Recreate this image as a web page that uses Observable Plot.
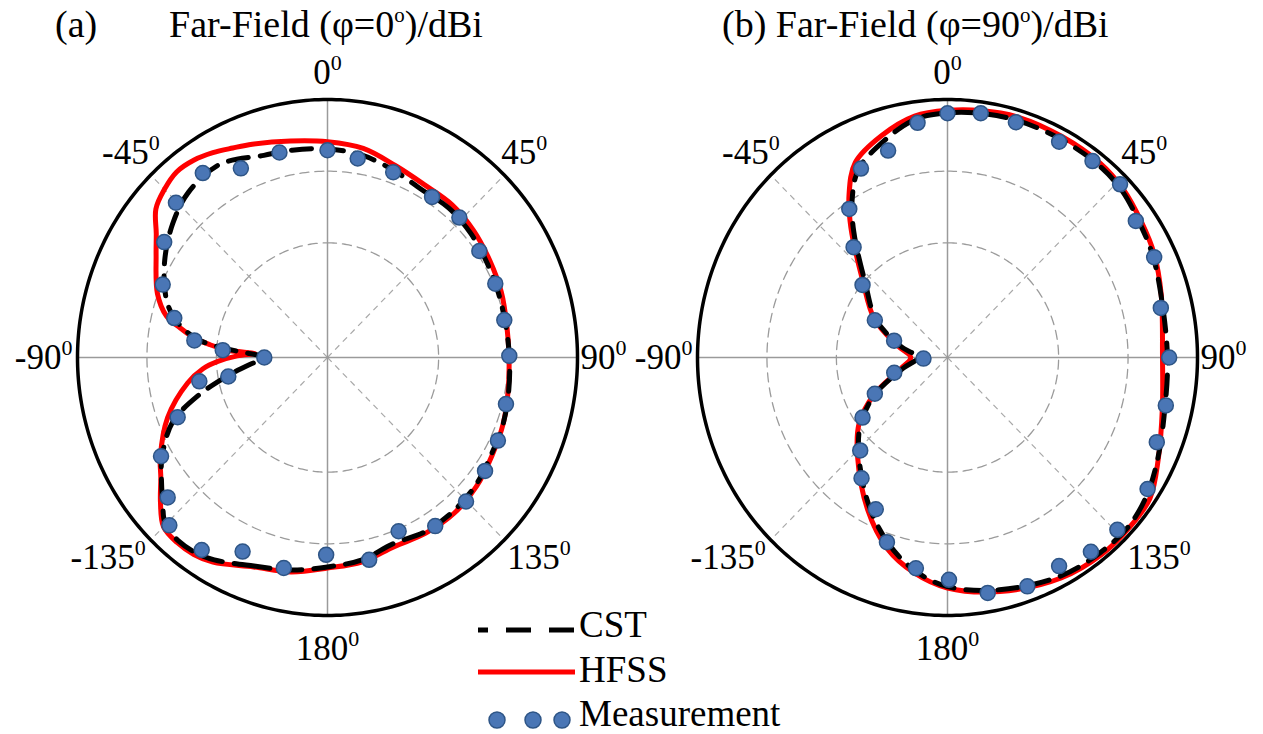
<!DOCTYPE html>
<html><head><meta charset="utf-8">
<script src="https://cdn.jsdelivr.net/npm/d3@7"></script>
<script src="https://cdn.jsdelivr.net/npm/@observablehq/plot@0.6"></script>
<style>
body{margin:0;background:#fff;}
#fig{position:relative;width:1263px;height:734px;overflow:hidden;font-family:"Liberation Serif","Times New Roman",serif;color:#000;background:#fff;}
.panel{position:absolute;}
.panel text{font-family:"Liberation Serif","Times New Roman",serif;}
.txt{position:absolute;font-size:37px;line-height:37px;white-space:nowrap;}
.ttl{font-size:38px;line-height:38px;}
.txt sup{font-size:0.55em;vertical-align:0.7em;line-height:0;}
#legend{position:absolute;left:0;top:0;}
</style></head><body><div id="fig"></div>
<script>
// ---------------- data ----------------
// radial axis (dBi): centre, ring values, outer ring
const R_MIN = -26, R_MAX = 10;
const RINGS = [-10, 0];
const tickAngles = [0, 45, 90, 135, 180, -135, -90, -45];
const tickLabels = ["0", "45", "90", "135", "180", "-135", "-90", "-45"];

// (a) phi = 0 deg
const hfssA_ang = [-170,-160,-150,-145,-140,-135,-130,-125,-120,-110,-100,-95,-92,-89,-87,-86,-84,-82,-79,-76,-70,-60,-55,-50,-45,-40,-35,-30,-25,-20,-10,0,10,20,30,40,50,60,70,80,90,100,110,120,130,140,150,160,170,180];
const hfssA_val = [4.38,5.1,6.98,7.55,7.7,7.4,5.4,3.3,1.8,-1.5,-5.55,-8.0,-10.2,-13.0,-15.5,-11.6,-9.0,-6.7,-4.4,-2.1,0.06,2.5,4.1,6.26,7.2,7.8,7.6,7.0,6.26,5.68,4.67,4.1,3.62,2.51,1.86,1.86,1.5,1.0,0.64,0.21,0.14,0.42,0.93,1.36,2.0,2.37,2.3,2.08,2.94,3.38];
const cstA_ang = [-170,-160,-150,-145,-140,-135,-130,-125,-120,-112,-106,-100,-95,-90,-87,-85,-82,-76,-70,-60,-50,-41,-30,-18,-10,0,10,20,30,40,50,60,70,80,90,100,110,120,130,140,150,160,170,180];
const cstA_val = [4.1,4.96,6.6,7.2,7.4,7.0,5.0,3.2,1.5,-1.95,-6.56,-11.46,-14.77,-17.07,-14.5,-11.0,-6.85,-3.25,-1.23,1.07,3.09,4.53,5.1,3.66,3.38,3.09,2.66,1.8,1.07,1.2,0.93,0.5,0.2,0.06,0.2,0.5,0.93,1.2,1.8,2.08,2.08,1.65,2.66,3.23];
const measA_ang = [-179.6,-167.9,-155.7,-146,-135.8,-130.3,-119.9,-111.1,-100.2,-100.5,-90,-86.1,-82.9,-76,-66.8,-55.6,-45.3,-34.9,-25.3,-13.6,0,8.9,20.1,33.9,44.2,55.8,66.9,78.4,89.5,104.2,115.3,124.9,135.2,146.6,157.1,168];
const measA_val = [1.53,4.04,3.71,6.4,6.67,4.18,1.65,-2.87,-7.25,-11.47,-16.9,-10.88,-6.68,-3.26,-0.18,2.5,4.7,5.38,3.19,3.43,2.92,2.11,1.53,1.0,1.24,0.44,0.27,-0.01,0.18,0.51,1.14,1.66,2.31,2.18,0.32,2.86];

// (b) phi = 90 deg
const hfssB_ang = [-171,-162,-151.5,-137,-126,-116,-103,-90,-77,-63,-48.5,-37.5,-32,-26,-17,-8,0,8,17,28,39,47,56,64,74,90,103,115,124,132,141,152,167,180];
const hfssB_val = [4.44,2.04,-1.88,-7.02,-10.25,-14.24,-19.1,-20.7,-18.6,-14.18,-9.67,-3.15,0.76,4.28,6.39,8.01,8.49,8.8,9.05,8.96,8.91,8.53,7.72,7.09,6.01,4.96,5.75,7.49,9.16,9.34,9.34,8.85,7.51,6.16];
const cstB_ang = hfssB_ang;
const cstB_val = [4.1,1.36,-2.38,-7.28,-10.6,-14.48,-19.52,-21.68,-19.1,-14.48,-10.16,-3.82,-0.08,3.23,5.54,7.55,8.13,8.4,8.56,8.56,8.56,8.27,7.41,6.83,5.97,5.68,6.11,7.41,8.56,9.14,9.0,8.56,7.26,5.97];
const measB_ang = [0,8,16.7,28.1,37.3,45.8,54.9,64.8,77.3,90,102,111.4,122.5,134.5,142.7,151.1,160.2,170,179.6,-171.2,-161.3,-154,-143.7,-135.9,-124.4,-115.8,-105.5,-92.6,-73,-63.6,-50.4,-41.3,-34.3,-25.3,-16.5,-7.5];
const measB_val = [8.08,8.42,8.27,8.13,8.46,8.66,7.15,6.89,5.49,5.92,6.14,6.37,8.16,8.30,8.08,7.25,7.94,7.35,5.02,3.76,1.2,-2.44,-5.09,-7.94,-11.17,-14.38,-18.04,-22.54,-17.96,-14.32,-10.12,-5.51,-0.9,3.16,4.11,7.03];

const seriesNames = ["CST", "HFSS", "Measurement"];

// ---------------- helpers ----------------
const zip = (a, v) => a.map((ang, i) => ({ang, val: v[i]}));
const rad = d3.scaleLinear().domain([R_MIN, R_MAX]).range([0, 1]);
const X = d => rad(d.val) * Math.sin(d.ang * Math.PI / 180);
const Y = d => rad(d.val) * Math.cos(d.ang * Math.PI / 180);

const W = 660, H = 660, RX = 250, RY = 258;
const FS = 35, SFS = 22;
const labelFont = "Liberation Serif, Times New Roman, serif";

function labelMarks(ang, text) {
  const mainW = [...text].reduce((s, c) => s + (c === "-" ? 0.333 : 0.5), 0) * FS;
  const supW = 0.5 * SFS;
  let mode, ox, oy;
  if (ang === 0) { mode = "c"; ox = 0; oy = -27; }
  else if (ang === 180) { mode = "c"; ox = 0; oy = 33; }
  else if (ang === 90) { mode = "l"; ox = 3; oy = 0; }
  else if (ang === -90) { mode = "r"; ox = -5; oy = 0; }
  else if (ang === 45) { mode = "l"; ox = -3; oy = -22; }
  else if (ang === 135) { mode = "l"; ox = 3; oy = 18; }
  else if (ang === -45) { mode = "r"; ox = 9; oy = -22; }
  else { mode = "r"; ox = -5; oy = 18; }
  const qx = mode === "l" ? ox + mainW : mode === "r" ? ox - supW : ox + (mainW - supW) / 2;
  const d = [{ang, val: R_MAX}];
  return [
    Plot.text(d, {x: X, y: Y, text: () => text, dx: qx, dy: oy, textAnchor: "end", lineAnchor: "middle",
      fontSize: FS, fontFamily: labelFont, fill: "#000"}),
    Plot.text(d, {x: X, y: Y, text: () => "0", dx: qx, dy: oy - 10, textAnchor: "start", lineAnchor: "middle",
      fontSize: SFS, fontFamily: labelFont, fill: "#000"})
  ];
}

function panel(hfss, cst, meas) {
  const circ = d3.range(0, 361, 1).map(a => ({ang: a}));
  const marks = [];
  for (const ring of RINGS) {
    marks.push(Plot.line(circ, {x: d => X({ang: d.ang, val: ring}), y: d => Y({ang: d.ang, val: ring}),
      stroke: "#9b9b9b", strokeWidth: 1.3, strokeDasharray: "9,6"}));
  }
  const spokes = tickAngles.map(a => ({ang: a, val: R_MAX}));
  marks.push(Plot.link(spokes.filter(d => d.ang % 90 !== 0), {x1: 0, y1: 0, x2: X, y2: Y,
    stroke: "#a8a8a8", strokeWidth: 1.2, strokeDasharray: "6,5"}));
  marks.push(Plot.link(spokes.filter(d => d.ang % 90 === 0), {x1: 0, y1: 0, x2: X, y2: Y,
    stroke: "#9a9a9a", strokeWidth: 1.5}));
  marks.push(Plot.line(circ, {x: d => X({ang: d.ang, val: R_MAX}), y: d => Y({ang: d.ang, val: R_MAX}),
    stroke: "#000", strokeWidth: 3.5}));
  marks.push(Plot.line(hfss, {x: X, y: Y, curve: "catmull-rom-closed", stroke: "#ff0000", strokeWidth: 5}));
  marks.push(Plot.line(cst, {x: X, y: Y, curve: "catmull-rom-closed", stroke: "#000", strokeWidth: 5, strokeDasharray: "20,12"}));
  marks.push(Plot.dot(meas, {x: X, y: Y, r: 7.5, fill: "#4a76b5", stroke: "#2e5586", strokeWidth: 1.5}));
  tickAngles.forEach((a, i) => marks.push(...labelMarks(a, tickLabels[i])));
  return Plot.plot({
    width: W, height: H, margin: 0,
    x: {domain: [-W / 2 / RX, W / 2 / RX], axis: null},
    y: {domain: [-H / 2 / RY, H / 2 / RY], axis: null},
    style: {overflow: "visible", background: "transparent", fontFamily: labelFont},
    marks
  });
}

const fig = document.getElementById("fig");
const centres = [[327, 357], [947, 357]];
const panels = [
  panel(zip(hfssA_ang, hfssA_val), zip(cstA_ang, cstA_val), zip(measA_ang, measA_val)),
  panel(zip(hfssB_ang, hfssB_val), zip(cstB_ang, cstB_val), zip(measB_ang, measB_val))
];
panels.forEach((p, i) => {
  p.classList.add("panel");
  p.style.left = (centres[i][0] - W / 2) + "px";
  p.style.top = (centres[i][1] - H / 2) + "px";
  fig.appendChild(p);
});

// titles
function addText(html, left, top, center, cls) {
  const d = document.createElement("div");
  d.className = "txt" + (cls ? " " + cls : "");
  d.innerHTML = html;
  d.style.left = left + "px";
  d.style.top = top + "px";
  if (center) d.style.transform = "translateX(-50%)";
  fig.appendChild(d);
  return d;
}
addText("(a)", 55, 5, false, "ttl");
addText("Far-Field (φ=0<sup>o</sup>)/dBi", 326, 5, true, "ttl");
addText("(b) Far-Field (φ=90<sup>o</sup>)/dBi", 722, 5, false, "ttl");

// legend
const lg = d3.select(fig).append("svg").attr("id", "legend").attr("width", 1263).attr("height", 734);
lg.append("line").attr("x1", 478).attr("x2", 575).attr("y1", 630).attr("y2", 630)
  .attr("stroke", "#000").attr("stroke-width", 5).attr("stroke-dasharray", "25,18").attr("stroke-dashoffset", 15);
lg.append("line").attr("x1", 478).attr("x2", 575).attr("y1", 672).attr("y2", 672)
  .attr("stroke", "#ff0000").attr("stroke-width", 5);
[497, 533, 562].forEach(x => lg.append("circle").attr("cx", x).attr("cy", 720).attr("r", 8)
  .attr("fill", "#4a76b5").attr("stroke", "#2e5586").attr("stroke-width", 1.5));
addText(seriesNames[0], 579, 606, false);
addText(seriesNames[1], 579, 651, false);
addText(seriesNames[2], 579, 695, false);
</script></body></html>
